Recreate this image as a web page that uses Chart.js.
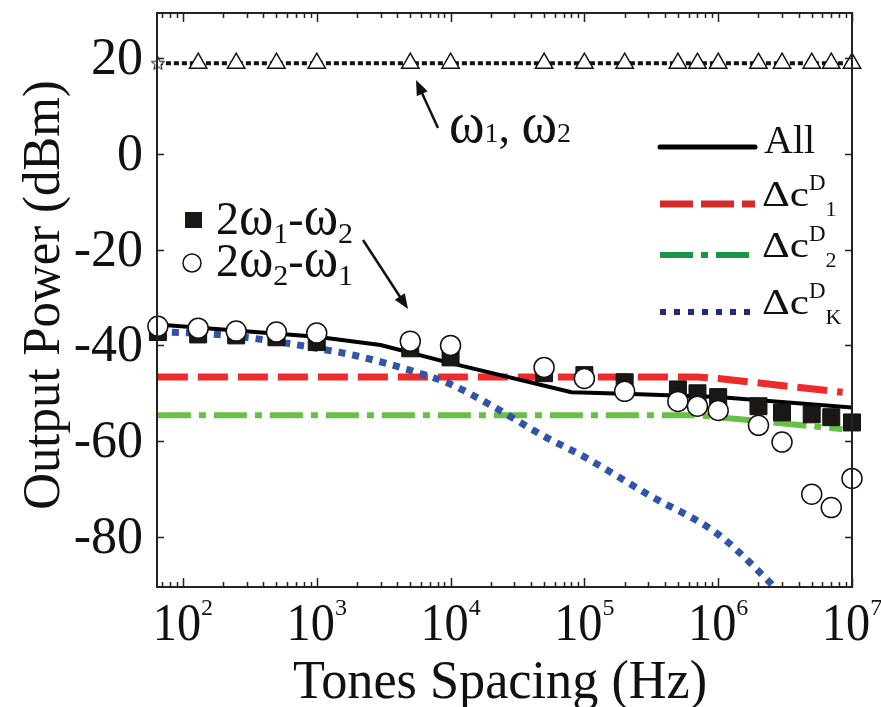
<!DOCTYPE html>
<html>
<head>
<meta charset="utf-8">
<script src="https://cdn.jsdelivr.net/npm/chart.js@4.4.1/dist/chart.umd.min.js"></script>
<style>
  html, body { margin: 0; padding: 0; background: #fff; }
</style>
</head>
<body>
<canvas id="chart" width="881" height="707"></canvas>
<script>
// measured sample points (tone spacing in Hz)
const freqs = [65, 130, 250, 500, 1000, 5000, 1e4, 5e4, 1e5, 2e5, 5e5, 7e5, 1e6, 2e6, 3e6, 5e6, 7e6, 1e7];
const fundPower = [19, 19, 19, 19, 19, 19, 19, 19, 19, 19, 19, 19, 19, 19, 19, 19, 19, 19];
const imd2w1w2 = [-37.2, -37.7, -37.9, -38.3, -39.3, -40.6, -42.5, -45.8, -46.2, -47.7, -49.2, -50.0, -50.8, -52.7, -54.0, -54.4, -55.0, -56.1];
const imd2w2w1 = [-36.0, -36.4, -37.0, -37.2, -37.4, -39.1, -40.0, -44.6, -46.9, -49.6, -51.7, -52.7, -53.6, -56.7, -60.2, -71.1, -73.9, -67.8];

// model curves
const allFreq = [65, 1000, 3000, 1e4, 8e4, 2e5, 1e6, 1e7];
const allPower = [-35.6, -38.2, -39.9, -43.7, -49.8, -50.1, -50.8, -53.0];
const d1Freq = [65, 7e5, 1e6, 8.5e6];
const d1Power = [-46.6, -46.6, -46.9, -49.8];
const d2Freq = [65, 7e5, 1e6, 8.5e6];
const d2Power = [-54.6, -54.6, -55.0, -57.5];
const dkFreq = [65, 200, 500, 1000, 2000, 5000, 1e4, 2e4, 5e4, 1e5, 3e5, 1e6, 3e6];
const dkPower = [-37.1, -37.8, -39.2, -40.6, -42.2, -45.2, -48.1, -52.5, -59.0, -63.3, -71.2, -79.5, -92];

const yTicks = [-80, -60, -40, -20, 0, 20];
const xDecades = [2, 3, 4, 5, 6, 7];

const FONT = '"Liberation Serif", "Times New Roman", serif';

function pts(xs, ys) {
    return xs.map((x, i) => ({ x: x, y: ys[i] }));
}

// small outlined star for the first fundamental point
const star = document.createElement('canvas');
star.width = 16; star.height = 16;
(function () {
    const c = star.getContext('2d');
    c.beginPath();
    for (let i = 0; i < 10; i++) {
        const r = i % 2 === 0 ? 7 : 3;
        const a = -Math.PI / 2 + i * Math.PI / 5;
        c.lineTo(8 + r * Math.cos(a), 8.5 + r * Math.sin(a));
    }
    c.closePath();
    c.fillStyle = '#fff';
    c.fill();
    c.lineWidth = 1;
    c.strokeStyle = '#111';
    c.stroke();
})();

function rich(ctx, x, y, parts) {
    parts.forEach(p => {
        ctx.font = p.s + 'px ' + FONT;
        const sx = p.sx || 1;
        ctx.save();
        ctx.translate(x, y + (p.dy || 0));
        ctx.scale(sx, 1);
        ctx.fillText(p.t, 0, 0);
        ctx.restore();
        x += ctx.measureText(p.t).width * sx + (p.gap || 0);
    });
    return x;
}

function arrow(ctx, x1, y1, x2, y2) {
    const a = Math.atan2(y2 - y1, x2 - x1);
    const hl = 15, hw = 6;
    ctx.beginPath();
    ctx.moveTo(x1, y1);
    ctx.lineTo(x2 - Math.cos(a) * hl * 0.8, y2 - Math.sin(a) * hl * 0.8);
    ctx.lineWidth = 2.5;
    ctx.strokeStyle = '#111';
    ctx.stroke();
    ctx.beginPath();
    ctx.moveTo(x2, y2);
    ctx.lineTo(x2 - Math.cos(a) * hl - Math.sin(a) * hw, y2 - Math.sin(a) * hl + Math.cos(a) * hw);
    ctx.lineTo(x2 - Math.cos(a) * hl + Math.sin(a) * hw, y2 - Math.sin(a) * hl - Math.cos(a) * hw);
    ctx.closePath();
    ctx.fillStyle = '#111';
    ctx.fill();
}

function legendLine(ctx, x1, x2, y, color, width, dash, cap) {
    ctx.save();
    ctx.beginPath();
    ctx.setLineDash(dash);
    ctx.lineCap = cap || 'butt';
    ctx.moveTo(x1, y);
    ctx.lineTo(x2, y);
    ctx.lineWidth = width;
    ctx.strokeStyle = color;
    ctx.stroke();
    ctx.restore();
}

const framePlugin = {
    id: 'frame',
    afterDraw(chart) {
        const ctx = chart.ctx;
        const a = chart.chartArea;
        const xs = chart.scales.x, ys = chart.scales.y;
        ctx.save();
        ctx.strokeStyle = '#222';
        ctx.lineWidth = 2;
        ctx.strokeRect(a.left, a.top, a.right - a.left, a.bottom - a.top);

        // x ticks, pointing inwards on bottom and top
        ctx.lineWidth = 1.5;
        ctx.beginPath();
        for (let d = 1; d <= 7; d++) {
            for (let m = 1; m <= 9; m++) {
                const v = m * Math.pow(10, d);
                if (v < xs.min || v > xs.max) continue;
                const px = Math.round(xs.getPixelForValue(v)) + 0.5;
                const len = m === 1 ? 9 : 5;
                ctx.moveTo(px, a.bottom); ctx.lineTo(px, a.bottom - len);
                ctx.moveTo(px, a.top); ctx.lineTo(px, a.top + len);
            }
        }
        yTicks.forEach(t => {
            const py = Math.round(ys.getPixelForValue(t)) + 0.5;
            ctx.moveTo(a.left, py); ctx.lineTo(a.left + 7, py);
            ctx.moveTo(a.right, py); ctx.lineTo(a.right - 7, py);
        });
        ctx.stroke();

        ctx.fillStyle = '#111';
        ctx.textBaseline = 'alphabetic';
        // y tick labels
        ctx.font = '52px ' + FONT;
        ctx.textAlign = 'right';
        yTicks.forEach(t => {
            const py = ys.getPixelForValue(t);
            ctx.fillText(t < 0 ? '-' + Math.abs(t) : String(t), a.left - 14, py + 16);
        });
        // x tick labels 10^n
        ctx.textAlign = 'left';
        xDecades.forEach(d => {
            const px = xs.getPixelForValue(Math.pow(10, d));
            ctx.font = '52px ' + FONT;
            const w1 = ctx.measureText('10').width * 0.93;
            ctx.font = '24px ' + FONT;
            const w2 = ctx.measureText(String(d)).width;
            const x0 = px - (w1 + w2) / 2;
            rich(ctx, x0, 640, [{ t: '10', s: 52, sx: 0.93 }, { t: String(d), s: 24, dy: -25 }]);
        });

        // axis titles
        ctx.textAlign = 'center';
        ctx.save();
        ctx.translate(500, 698);
        ctx.scale(0.95, 1);
        ctx.font = '55px ' + FONT;
        ctx.fillText('Tones Spacing (Hz)', 0, 0);
        ctx.restore();
        ctx.save();
        ctx.translate(59, 295);
        ctx.rotate(-Math.PI / 2);
        ctx.scale(0.96, 1);
        ctx.font = '53px ' + FONT;
        ctx.fillText('Output Power (dBm)', 0, 0);
        ctx.restore();

        ctx.textAlign = 'left';
        // fundamental annotation
        rich(ctx, 449, 142, [
            { t: 'ω', s: 60, sx: 0.9 }, { t: '1', s: 28 }, { t: ', ', s: 46 },
            { t: 'ω', s: 60, sx: 0.9 }, { t: '2', s: 28 }
        ]);
        arrow(ctx, 438, 128, 416, 80);

        // intermod legend
        ctx.fillStyle = '#1a1714';
        ctx.fillRect(185, 212, 17, 16);
        ctx.beginPath();
        ctx.arc(192, 263, 9, 0, Math.PI * 2);
        ctx.fillStyle = '#fff';
        ctx.fill();
        ctx.lineWidth = 1.5;
        ctx.strokeStyle = '#111';
        ctx.stroke();
        ctx.fillStyle = '#111';
        rich(ctx, 216, 234, [
            { t: '2', s: 46 }, { t: 'ω', s: 58, sx: 0.9 }, { t: '1', s: 30, dy: 9 },
            { t: '-', s: 46 }, { t: 'ω', s: 58, sx: 0.9 }, { t: '2', s: 30, dy: 9 }
        ]);
        rich(ctx, 216, 276, [
            { t: '2', s: 46 }, { t: 'ω', s: 58, sx: 0.9 }, { t: '2', s: 30, dy: 9 },
            { t: '-', s: 46 }, { t: 'ω', s: 58, sx: 0.9 }, { t: '1', s: 30, dy: 9 }
        ]);
        arrow(ctx, 363, 240, 408, 309);

        // model legend
        legendLine(ctx, 660, 755, 147, '#000', 5, [], 'round');
        rich(ctx, 764, 153, [{ t: 'All', s: 40 }]);
        legendLine(ctx, 660, 755, 204, '#d42a2a', 7, [33, 8]);
        legendLine(ctx, 660, 755, 255, '#1b9448', 6, [33, 8, 7, 8]);
        legendLine(ctx, 660, 755, 312, '#232c7a', 6, [6, 8]);
        [[204, '1'], [255, '2'], [312, 'K']].forEach(r => {
            const y = r[0];
            rich(ctx, 762, y + 2, [
                { t: 'Δc', s: 36, sx: 1.2 },
                { t: 'D', s: 23, dy: -16 },
                { t: r[1], s: 22, dy: 10 }
            ]);
        });
        ctx.restore();
    }
};

const markerStyles = freqs.map((f, i) => i === 0 ? star : 'triangle');

new Chart(document.getElementById('chart'), {
    type: 'scatter',
    data: {
        datasets: [
            {
                label: '2w2-w1',
                data: pts(freqs, imd2w2w1),
                showLine: false,
                pointStyle: 'circle',
                pointRadius: 10,
                backgroundColor: '#fff',
                borderColor: '#111',
                borderWidth: 1.5,
                clip: false
            },
            {
                label: '2w1-w2',
                data: pts(freqs, imd2w1w2),
                showLine: false,
                pointStyle: 'rect',
                pointRadius: 12,
                backgroundColor: '#1a1714',
                borderColor: '#111',
                borderWidth: 1,
                clip: false
            },
            {
                label: 'w1, w2',
                data: pts(freqs, fundPower),
                showLine: true,
                borderColor: '#111',
                borderWidth: 4,
                borderDash: [5, 3],
                pointStyle: markerStyles,
                pointRadius: 10,
                pointBackgroundColor: '#fff',
                pointBorderColor: '#111',
                pointBorderWidth: 1.5,
                clip: false
            },
            {
                label: 'All',
                data: pts(allFreq, allPower),
                showLine: true,
                borderColor: '#000',
                borderWidth: 4,
                pointRadius: 0
            },
            {
                label: 'dcK',
                data: pts(dkFreq, dkPower),
                showLine: true,
                borderColor: '#2f54aa',
                borderWidth: 7,
                borderDash: [7, 7],
                cubicInterpolationMode: 'monotone',
                pointRadius: 0,
                clip: 0
            },
            {
                label: 'dc1',
                data: pts(d1Freq, d1Power),
                showLine: true,
                borderColor: '#ee2a2a',
                borderWidth: 7,
                borderDash: [30, 10],
                pointRadius: 0
            },
            {
                label: 'dc2',
                data: pts(d2Freq, d2Power),
                showLine: true,
                borderColor: '#6abf47',
                borderWidth: 6,
                borderDash: [33, 8, 7, 8],
                pointRadius: 0
            }
        ]
    },
    options: {
        responsive: false,
        animation: false,
        layout: { padding: { left: 157, right: 29, top: 13, bottom: 120 } },
        plugins: {
            legend: { display: false },
            tooltip: { enabled: false }
        },
        scales: {
            x: { type: 'logarithmic', min: 64, max: 1e7, display: false },
            y: { type: 'linear', min: -90.5, max: 29.5, display: false }
        }
    },
    plugins: [framePlugin]
});
</script>
</body>
</html>
